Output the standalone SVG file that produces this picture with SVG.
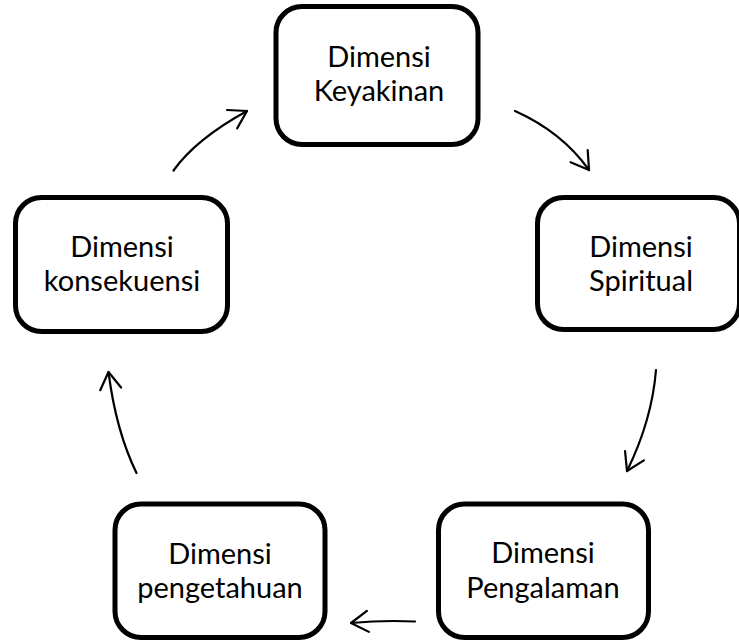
<svg xmlns="http://www.w3.org/2000/svg" width="739" height="642" viewBox="0 0 739 642">
<defs>
<style>
.box{fill:#fff;stroke:#000;stroke-width:5}
.lbl{font-family:Lato,"Open Sans","Liberation Sans",sans-serif;font-size:29px;fill:#000;text-anchor:middle}
.con{fill:none;stroke:#000;stroke-width:2.2;stroke-linecap:round}
</style>
<marker id="arr" markerUnits="userSpaceOnUse" markerWidth="40" markerHeight="40" viewBox="-20 -20 40 40" refX="0" refY="0" orient="auto" overflow="visible">
<path d="M-17,-10.5 L0,0 L-17,10.5" fill="none" stroke="#000" stroke-width="2.2" stroke-linecap="round" stroke-linejoin="round"/>
</marker>
</defs>
<rect width="739" height="642" fill="#fff"/>
<g id="connectors">
<path class="con" d="M515,111 Q562,132 589,170" marker-end="url(#arr)"/>
<path class="con" d="M656,370 Q652,420 627,471" marker-end="url(#arr)"/>
<path class="con" d="M415,621.5 Q383,620 351,623" marker-end="url(#arr)"/>
<path class="con" d="M136.5,473 Q116,431 108.5,372" marker-end="url(#arr)"/>
<path class="con" d="M173.5,170.5 Q196,139 247,111" marker-end="url(#arr)"/>
</g>
<g id="keyakinan">
<rect class="box" x="276" y="6.5" width="202" height="138" rx="26"/>
<text class="lbl" x="379" y="67">Dimensi</text>
<text class="lbl" x="379" y="101">Keyakinan</text>
</g>
<g id="spiritual">
<rect class="box" x="537.5" y="197.5" width="202" height="132" rx="26"/>
<text class="lbl" x="641" y="257">Dimensi</text>
<text class="lbl" x="641" y="291">Spiritual</text>
</g>
<g id="pengalaman">
<rect class="box" x="438.5" y="504" width="210" height="133.5" rx="26"/>
<text class="lbl" x="543" y="563">Dimensi</text>
<text class="lbl" x="543" y="598">Pengalaman</text>
</g>
<g id="pengetahuan">
<rect class="box" x="115" y="504" width="210" height="133.5" rx="26"/>
<text class="lbl" x="220" y="564">Dimensi</text>
<text class="lbl" x="220" y="598">pengetahuan</text>
</g>
<g id="konsekuensi">
<rect class="box" x="15.5" y="197.5" width="212" height="134" rx="26"/>
<text class="lbl" x="122" y="257">Dimensi</text>
<text class="lbl" x="122" y="291">konsekuensi</text>
</g>
</svg>
